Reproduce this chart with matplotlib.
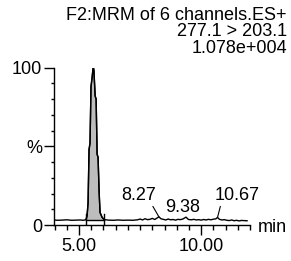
import matplotlib
matplotlib.use("Agg")
import matplotlib.pyplot as plt
from matplotlib.ticker import MultipleLocator

plt.rcParams['font.family'] = ['Liberation Sans', 'DejaVu Sans']

title_lines = ["F2:MRM of 6 channels.ES+", "277.1 > 203.1", "1.078e+004"]

times = [3.98, 4.1, 4.3, 4.5, 4.7, 4.9, 5.05, 5.15, 5.22, 5.29, 5.33, 5.37, 5.41,
         5.45, 5.49, 5.53, 5.57, 5.59, 5.61, 5.66, 5.70, 5.74, 5.78, 5.82, 5.86,
         5.94, 6.02, 6.2, 6.4, 6.6, 6.8, 7.0, 7.2, 7.4, 7.5, 7.6, 7.7, 7.8, 7.9,
         8.0, 8.1, 8.2, 8.27, 8.35, 8.45, 8.55, 8.65, 8.75, 8.85, 8.95, 9.05,
         9.15, 9.25, 9.38, 9.48, 9.6, 9.7, 9.8, 9.9, 10.0, 10.1, 10.2, 10.3,
         10.4, 10.5, 10.6, 10.67, 10.75, 10.85, 10.95, 11.05, 11.15, 11.25,
         11.35, 11.45, 11.55, 11.65, 11.75, 11.88]
intensity = [3.2, 3.0, 3.1, 3.3, 3.0, 3.1, 3.2, 3.0, 3.1, 3.5, 6.0, 14.0, 48.0,
             52.0, 88.0, 93.0, 99.0, 100.0, 98.0, 82.0, 80.0, 45.0, 43.0, 22.0, 8.0,
             5.0, 3.5, 3.1, 3.0, 3.2, 3.0, 3.1, 3.0, 3.3, 3.8, 3.2, 4.0, 3.4, 3.6,
             4.2, 3.5, 4.5, 5.2, 4.0, 3.6, 3.2, 3.8, 3.3, 3.5, 3.1, 3.6,
             3.4, 3.8, 5.0, 3.5, 3.3, 3.6, 3.2, 3.4, 3.1, 3.5, 3.2, 3.6,
             3.3, 3.7, 3.9, 4.8, 3.6, 3.2, 3.4, 3.0, 2.8, 3.2,
             2.7, 3.0, 2.6, 2.9, 2.8, 2.7]

peak_start, peak_end = 5.29, 6.02
baseline_level = 3.2
labels = ["8.27", "9.38", "10.67"]
label_rt = [8.27, 9.38, 10.67]
label_y = [5.2, 5.0, 4.8]

W, H = 291, 261
fig = plt.figure(figsize=(W / 100, H / 100), dpi=100)
ax = fig.add_axes([54 / W, (H - 225) / H, (250 - 54) / W, (225 - 67.7) / H])

ax.plot(times, intensity, color='black', lw=1.0)
pk_t = [t for t in times if peak_start <= t <= peak_end]
pk_i = [i for t, i in zip(times, intensity) if peak_start <= t <= peak_end]
ax.fill_between(pk_t, baseline_level, pk_i, color='#bdbdbd', lw=0)
ax.plot(pk_t, pk_i, color='black', lw=1.0)
ax.plot([peak_start, peak_end], [baseline_level, baseline_level], color='black', lw=1.0)
for t in (peak_start, peak_end):
    ax.plot([t, t], [0.5, 7.0], color='black', lw=1.0)

ax.set_xlim(3.975, 12.0)
ax.set_ylim(0, 100)
for s in ('top', 'right'):
    ax.spines[s].set_visible(False)
for s in ('left', 'bottom'):
    ax.spines[s].set_linewidth(1.0)

ax.set_xticks([5, 10])
ax.set_xticklabels(["5.00", "10.00"])
ax.xaxis.set_minor_locator(MultipleLocator(0.5))
ax.set_yticks([0, 50, 100])
ax.set_yticklabels(["0", "%", "100"])
ax.yaxis.set_minor_locator(MultipleLocator(10))
ax.tick_params(axis='x', which='major', length=7.2, width=1, labelsize=13, pad=2)
ax.tick_params(axis='y', which='major', length=7.2, width=1, labelsize=13, pad=1.5)
ax.tick_params(axis='x', which='minor', length=3.6, width=1)
ax.tick_params(axis='y', which='minor', length=2.4, width=1)

fig.text(258 / W, 1 - 232 / H, "min", fontsize=13, va='baseline', ha='left')

text_pos = [(7.46, 19.0), (9.26, 11.4), (11.46, 19.0)]
relpos = [(0.85, 0.0), (0.5, 0.0), (0.15, 0.0)]
for lab, rt, y, (tx, ty), rp in zip(labels, label_rt, label_y, text_pos, relpos):
    if lab == "9.38":
        ax.text(tx, ty, lab, fontsize=13, ha='center', va='center')
    else:
        ax.annotate(lab, xy=(rt, y), xytext=(tx, ty), fontsize=13,
                    ha='center', va='center',
                    arrowprops=dict(arrowstyle='-', color='black', lw=0.8,
                                    shrinkA=0, shrinkB=0, relpos=rp))

for k, line in enumerate(title_lines):
    fig.text(287 / W, 1 - (15 + 16.8 * k) / H, line, fontsize=13,
             ha='right', va='center')

fig.savefig("out.png", dpi=100)
